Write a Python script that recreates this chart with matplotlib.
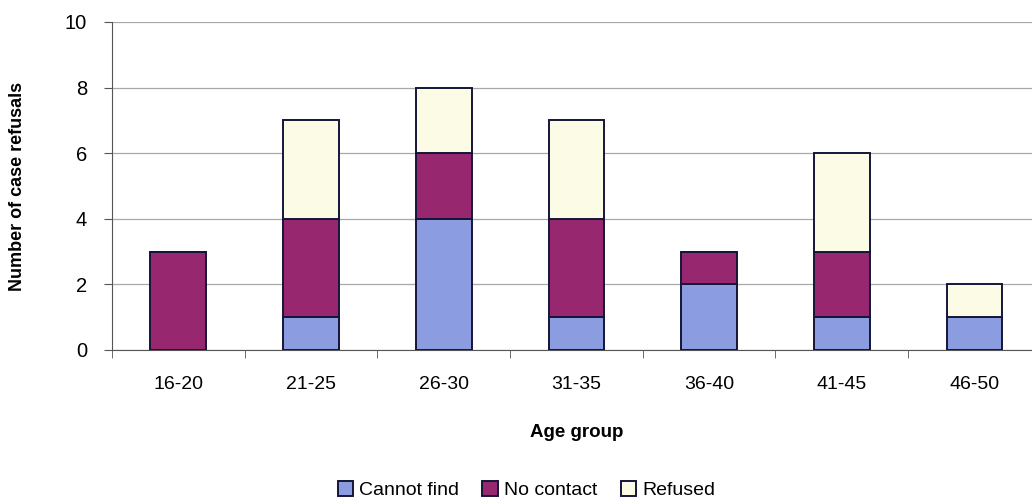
import numpy as np
import matplotlib.pyplot as plt

plt.rcParams['font.family'] = ['Liberation Sans', 'DejaVu Sans']

# Refusals per age group, split by reason
groups = ['16-20', '21-25', '26-30', '31-35', '36-40', '41-45', '46-50']
cannot_find = [0, 1, 4, 1, 2, 1, 1]
no_contact = [3, 3, 2, 3, 1, 2, 0]
refused = [0, 3, 2, 3, 0, 3, 1]

series = [('Cannot find', cannot_find, '#8c9ce0'),
          ('No contact', no_contact, '#972870'),
          ('Refused', refused, '#fbfbe6')]

fig = plt.figure(figsize=(10.32, 5.04), dpi=100)
# plot area runs slightly past the right edge of the figure
ax = fig.add_axes([0.1085, 0.3056, 0.9, 0.6508])

x = np.arange(len(groups))
bottom = np.zeros(len(groups))
for name, vals, col in series:
    vals = np.array(vals, dtype=float)
    ax.bar(x, vals, width=0.42, bottom=bottom, color=col, edgecolor='#15153a',
           linewidth=1.4, label=name, zorder=3)
    bottom += vals

ax.set_xlim(-0.5, len(groups) - 0.5)
ax.set_ylim(0, 10)
ax.set_yticks(range(0, 11, 2))
ax.yaxis.grid(True, color='#a8a8a8', linewidth=0.9, zorder=0)

# category ticks sit between the groups
ax.set_xticks(x)
ax.set_xticklabels(groups, fontsize=14)
ax.tick_params(axis='x', length=0, pad=19)
ax.set_xticks(np.arange(-0.5, len(groups), 1), minor=True)
ax.tick_params(axis='x', which='minor', length=6, color='#555555', direction='out')
ax.tick_params(axis='y', labelsize=14.5, length=6, color='#555555', pad=12)

for s in ['top', 'right']:
    ax.spines[s].set_visible(False)
ax.spines['left'].set_color('#555555')
ax.spines['bottom'].set_color('#555555')

ax.set_xlabel('Age group', fontsize=13.5, fontweight='bold', labelpad=22)
ax.set_ylabel('Number of case refusals', fontsize=13, fontweight='bold', labelpad=28)

fig.legend(loc='lower center', bbox_to_anchor=(0.51, -0.025), ncol=3, frameon=False,
           fontsize=14, handlelength=0.8, handleheight=0.8, handletextpad=0.3,
           columnspacing=1.2)

fig.savefig('out.png', dpi=100)
